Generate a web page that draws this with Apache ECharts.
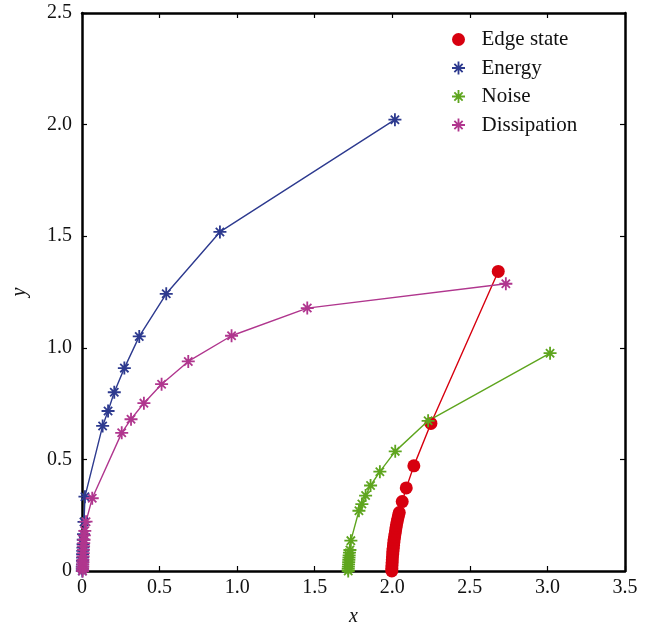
<!DOCTYPE html>
<html>
<head>
<meta charset="utf-8">
<script src="https://cdn.jsdelivr.net/npm/echarts@6/dist/echarts.min.js"></script>
<style>
  html, body { margin: 0; padding: 0; background: #fff; }
  #chart { width: 649px; height: 624px; }
</style>
</head>
<body>
<div id="chart"></div>
<script>
// series values
var seriesNames = ['Edge state', 'Energy', 'Noise', 'Dissipation'];

var edgeX = [1.997, 1.997, 1.998, 1.999, 2.000, 2.001, 2.003, 2.004, 2.006, 2.008, 2.010, 2.012, 2.015, 2.018, 2.021, 2.024, 2.027, 2.031, 2.035, 2.040, 2.045, 2.064, 2.090, 2.139, 2.249, 2.683];
var edgeY = [0.000, 0.012, 0.025, 0.038, 0.050, 0.063, 0.076, 0.089, 0.102, 0.115, 0.128, 0.141, 0.154, 0.167, 0.180, 0.194, 0.207, 0.220, 0.234, 0.248, 0.262, 0.311, 0.372, 0.471, 0.661, 1.342];

var energyX = [0.002, 0.002, 0.002, 0.003, 0.003, 0.004, 0.004, 0.005, 0.006, 0.007, 0.008, 0.010, 0.013, 0.019, 0.133, 0.168, 0.208, 0.273, 0.369, 0.543, 0.889, 2.017];
var energyY = [0.000, 0.010, 0.020, 0.030, 0.045, 0.060, 0.075, 0.090, 0.105, 0.120, 0.140, 0.165, 0.220, 0.333, 0.650, 0.717, 0.801, 0.909, 1.051, 1.242, 1.519, 2.022];

var noiseX = [1.716, 1.716, 1.717, 1.718, 1.719, 1.720, 1.721, 1.722, 1.724, 1.727, 1.733, 1.785, 1.804, 1.828, 1.860, 1.920, 2.019, 2.231, 3.017];
var noiseY = [0.000, 0.010, 0.020, 0.030, 0.040, 0.050, 0.060, 0.070, 0.082, 0.094, 0.136, 0.270, 0.300, 0.338, 0.383, 0.445, 0.536, 0.673, 0.976];

var dissX = [0.004, 0.004, 0.005, 0.005, 0.006, 0.006, 0.007, 0.008, 0.009, 0.010, 0.011, 0.013, 0.015, 0.018, 0.026, 0.066, 0.256, 0.316, 0.399, 0.513, 0.685, 0.964, 1.452, 2.732];
var dissY = [0.000, 0.010, 0.020, 0.030, 0.040, 0.050, 0.065, 0.080, 0.095, 0.110, 0.125, 0.140, 0.160, 0.180, 0.221, 0.326, 0.619, 0.680, 0.752, 0.837, 0.939, 1.054, 1.178, 1.287];

var colors = ['#d7000f', '#2d3a8f', '#5ea51e', '#b0368e'];

// asterisk marker (8 spokes)
var star = 'path://M8.6 0L11.4 0L11.4 20L8.6 20Z M0 8.6L20 8.6L20 11.4L0 11.4Z ' +
  'M4.626 2.646L17.354 15.374L15.374 17.354L2.646 4.626Z ' +
  'M17.354 4.626L4.626 17.354L2.646 15.374L15.374 2.646Z';

var font = 'Liberation Serif';

function pairs(xs, ys) {
  return xs.map(function (x, i) { return [x, ys[i]]; });
}

function fmt(v) {
  return v === 0 ? '0' : v.toFixed(1);
}

var dom = document.getElementById('chart');
var myChart = echarts.init(dom, null, { renderer: 'canvas' });

var axisLine = { show: true, onZero: false, lineStyle: { color: '#000', width: 2.5 } };
var axisTick = { show: true, inside: true, length: 5, lineStyle: { color: '#000', width: 1.2 } };

var option = {
  animation: false,
  backgroundColor: '#fff',
  grid: { left: 82, right: 24, top: 13, bottom: 53, outerBoundsMode: 'none' },
  legend: {
    orient: 'vertical',
    left: 447,
    top: 24,
    itemWidth: 36,
    itemHeight: 13,
    itemGap: 7.5,
    symbolKeepAspect: true,
    textStyle: { fontFamily: font, fontSize: 21, color: '#111' },
    data: [
      { name: 'Edge state', icon: 'circle' },
      { name: 'Energy', icon: star },
      { name: 'Noise', icon: star },
      { name: 'Dissipation', icon: star }
    ]
  },
  xAxis: [
    {
      type: 'value', min: 0, max: 3.5, interval: 0.5,
      name: 'x', nameLocation: 'middle', nameGap: 36,
      nameTextStyle: { fontFamily: font, fontSize: 20, fontStyle: 'italic', color: '#111' },
      axisLine: axisLine, axisTick: axisTick, splitLine: { show: false },
      axisLabel: { formatter: fmt, margin: 7, fontFamily: font, fontSize: 20, color: '#111' }
    },
    {
      type: 'value', position: 'top', min: 0, max: 3.5, interval: 0.5,
      axisLine: axisLine, axisTick: axisTick, splitLine: { show: false },
      axisLabel: { show: false }
    }
  ],
  yAxis: [
    {
      type: 'value', min: 0, max: 2.5, interval: 0.5,
      name: 'y', nameLocation: 'middle', nameGap: 52,
      nameTextStyle: { fontFamily: font, fontSize: 20, fontStyle: 'italic', color: '#111' },
      axisLine: axisLine, axisTick: axisTick, splitLine: { show: false },
      axisLabel: { formatter: fmt, margin: 10, fontFamily: font, fontSize: 20, color: '#111' }
    },
    {
      type: 'value', position: 'right', min: 0, max: 2.5, interval: 0.5,
      axisLine: axisLine, axisTick: axisTick, splitLine: { show: false },
      axisLabel: { show: false }
    }
  ],
  series: [
    {
      name: 'Edge state', type: 'line', data: pairs(edgeX, edgeY),
      symbol: 'circle', symbolSize: 13, showAllSymbol: true,
      lineStyle: { color: colors[0], width: 1.4 },
      itemStyle: { color: colors[0] }
    },
    {
      name: 'Energy', type: 'line', data: pairs(energyX, energyY),
      symbol: star, symbolSize: 13, showAllSymbol: true,
      lineStyle: { color: colors[1], width: 1.4 },
      itemStyle: { color: colors[1] }
    },
    {
      name: 'Noise', type: 'line', data: pairs(noiseX, noiseY),
      symbol: star, symbolSize: 13, showAllSymbol: true,
      lineStyle: { color: colors[2], width: 1.4 },
      itemStyle: { color: colors[2] }
    },
    {
      name: 'Dissipation', type: 'line', data: pairs(dissX, dissY),
      symbol: star, symbolSize: 13, showAllSymbol: true,
      lineStyle: { color: colors[3], width: 1.4 },
      itemStyle: { color: colors[3] }
    }
  ]
};

if (option && typeof option === 'object') {
  myChart.setOption(option);
}
window.addEventListener('resize', myChart.resize);
</script>
</body>
</html>
